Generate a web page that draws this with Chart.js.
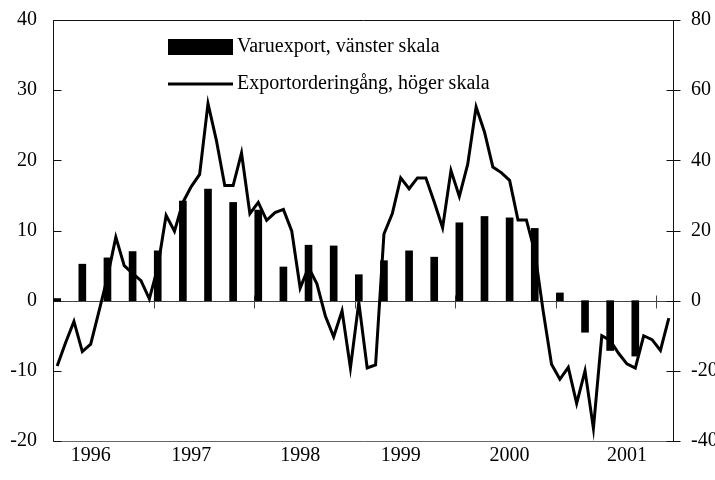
<!DOCTYPE html>
<html>
<head>
<meta charset="utf-8">
<script src="https://cdn.jsdelivr.net/npm/chart.js@4.4.1/dist/chart.umd.min.js"></script>
<style>
  html, body { margin: 0; padding: 0; background: #fff; }
</style>
</head>
<body>
<canvas id="exportChart" width="715" height="480"></canvas>
<script>
// monthly categories, Jan 1996 onwards (74 months)
const months = [];
for (let i = 0; i < 74; i++) {
  months.push((1996 + Math.floor(i / 12)) + '-' + String(i % 12 + 1).padStart(2, '0'));
}

// year labels and the month index they sit under
const yearLabels = ['1996', '1997', '1998', '1999', '2000', '2001'];
const yearLabelAt = [4, 16, 29, 41, 54, 68];

// Varuexport, quarterly, left scale (%)
const exportQuarterly = [0.3, 5.2, 6.1, 7.0, 7.1, 14.2, 15.9, 14.0, 12.9, 4.8, 7.9, 7.8,
                         3.7, 5.7, 7.1, 6.2, 11.1, 12.0, 11.8, 10.3, 1.1, -4.5, -7.1, -7.9];

// Exportorderingång, monthly, right scale
const orderInflow = [-18.6, -12, -5.9, -14.5, -12.4, -2.9, 6.7, 18.1, 10, 7.8, 5.7, 0.5,
                     9.5, 24.3, 19.8, 28, 32.5, 36, 56.2, 45.7, 32.8, 32.8, 42.1, 24.8,
                     28, 22.9, 25.1, 26, 19.8, 3.6, 9.5, 4.8, -4.3, -10.3, -2.9, -19.2,
                     -0.5, -19.2, -18.3, 19, 24.8, 35, 31.9, 35, 35, 28.1, 20.8, 37.1,
                     29.7, 38.9, 55.2, 48.1, 38.1, 36.5, 34.3, 23, 23, 14, -2.9, -18.1,
                     -22.4, -19, -29.3, -20, -36.4, -10, -11.3, -15, -18, -19.2, -10, -11.1,
                     -14.2, -5];

const leftTicks = [-20, -10, 0, 10, 20, 30, 40];
const rightTicks = [-40, -20, 0, 20, 40, 60, 80];

// bars go on the first month of each quarter
const exportBars = months.map((m, i) => (i % 3 === 0 ? exportQuarterly[i / 3] : null));

const serif = "'Liberation Serif', 'Times New Roman', serif";
const tickFont = { family: serif, size: 20 };

const frame = {
  id: 'frame',
  beforeDatasetsDraw(chart) {
    const { ctx, chartArea: a, scales } = chart;
    const yl = scales.yLeft, yr = scales.yRight, x = scales.x;
    const L = Math.round(a.left) + 0.5, R = Math.round(a.right) + 0.5;
    const T = Math.round(a.top) + 0.5, B = Math.round(a.bottom) + 0.5;
    ctx.save();
    ctx.lineWidth = 1;

    // bottom line
    ctx.strokeStyle = '#666';
    ctx.beginPath();
    ctx.moveTo(L, B); ctx.lineTo(R, B);
    ctx.stroke();

    // zero line with year ticks
    const y0 = Math.round(yl.getPixelForValue(0)) + 0.5;
    ctx.strokeStyle = '#444';
    ctx.beginPath();
    ctx.moveTo(L, y0); ctx.lineTo(R, y0);
    for (let k = 1; k <= 6; k++) {
      const px = Math.round((x.getPixelForValue(12 * k - 1) + x.getPixelForValue(12 * k)) / 2) + 0.5;
      ctx.moveTo(px, y0 - 6); ctx.lineTo(px, y0 + 7);
    }
    ctx.stroke();

    // axes and top border
    ctx.strokeStyle = '#111';
    ctx.beginPath();
    ctx.moveTo(L, B); ctx.lineTo(L, T); ctx.lineTo(R, T);
    ctx.moveTo(R, T); ctx.lineTo(R, B);
    leftTicks.forEach(v => {
      const py = Math.round(yl.getPixelForValue(v)) + 0.5;
      ctx.moveTo(L, py); ctx.lineTo(L + 8, py);
    });
    rightTicks.forEach(v => {
      const py = Math.round(yr.getPixelForValue(v)) + 0.5;
      ctx.moveTo(R - 7, py); ctx.lineTo(R + 7, py);
    });
    ctx.stroke();
    ctx.restore();
  },
  afterDraw(chart) {
    const ctx = chart.ctx;
    const sets = chart.data.datasets;
    ctx.save();
    ctx.fillStyle = '#000';
    ctx.strokeStyle = '#000';
    ctx.fillRect(168, 39, 65, 16);
    ctx.lineWidth = 3;
    ctx.beginPath();
    ctx.moveTo(168, 84); ctx.lineTo(233, 84);
    ctx.stroke();
    ctx.font = '20px ' + serif;
    ctx.textBaseline = 'middle';
    ctx.fillText(sets[1].label, 237, 47);
    ctx.fillText(sets[0].label, 237, 84);
    ctx.restore();
  }
};

// keep the tick labels from pushing the plot area in
const fitY = width => s => {
  s.width = width;
  s.paddingTop = 0;
  s.paddingBottom = 0;
};

const ctx = document.getElementById('exportChart').getContext('2d');
new Chart(ctx, {
  data: {
    labels: months,
    datasets: [
      {
        type: 'line',
        label: 'Exportorderingång, höger skala',
        data: orderInflow,
        yAxisID: 'yRight',
        borderColor: '#000',
        borderWidth: 3,
        pointRadius: 0,
        tension: 0,
        order: 0
      },
      {
        type: 'bar',
        label: 'Varuexport, vänster skala',
        data: exportBars,
        yAxisID: 'yLeft',
        backgroundColor: '#000',
        barThickness: 7,
        order: 1
      }
    ]
  },
  options: {
    responsive: false,
    animation: false,
    layout: { padding: { top: 20, left: 0, right: 0, bottom: 0 } },
    scales: {
      x: {
        type: 'category',
        offset: true,
        grid: { display: false, drawTicks: false },
        border: { display: false },
        ticks: {
          autoSkip: false,
          maxRotation: 0,
          padding: 3,
          color: '#000',
          font: tickFont,
          callback: (v, i) => {
            const k = yearLabelAt.indexOf(i);
            return k >= 0 ? yearLabels[k] : '';
          }
        },
        afterFit: s => { s.height = 39; }
      },
      yLeft: {
        position: 'left',
        min: -20,
        max: 40,
        grid: { display: false, drawTicks: false },
        border: { display: false },
        ticks: { stepSize: 10, padding: 16, color: '#000', font: tickFont },
        afterFit: fitY(53)
      },
      yRight: {
        position: 'right',
        min: -40,
        max: 80,
        grid: { display: false, drawTicks: false },
        border: { display: false },
        ticks: { stepSize: 20, padding: 18, color: '#000', font: tickFont },
        afterFit: fitY(42)
      }
    },
    plugins: {
      legend: { display: false },
      tooltip: { enabled: false }
    }
  },
  plugins: [frame]
});
</script>
</body>
</html>
